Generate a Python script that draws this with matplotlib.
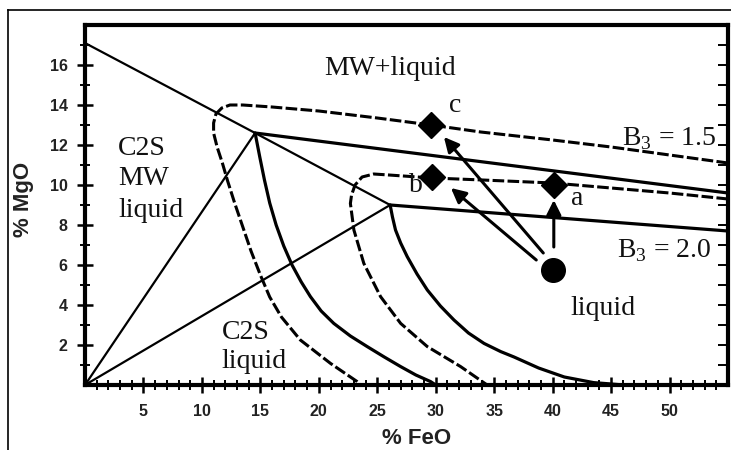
import numpy as np
import matplotlib
matplotlib.use("Agg")
import matplotlib.pyplot as plt
from matplotlib.lines import Line2D

plt.rcParams['mathtext.fontset'] = 'custom'
plt.rcParams['mathtext.rm'] = 'Liberation Serif'

# Tie lines (straight)
top_line_x = [0.0, 14.55, 26.1]
top_line_y = [17.1, 12.6, 9.0]
origin_t1_x = [0.0, 14.55]
origin_t1_y = [0.0, 12.6]
origin_t2_x = [0.0, 26.1]
origin_t2_y = [0.0, 9.0]
t1_right_x = [14.55, 55.0]
t1_right_y = [12.6, 9.6]
t2_right_x = [26.1, 55.0]
t2_right_y = [9.0, 7.7]

# Solid liquidus curves
liq1_x = [14.55, 14.95, 15.35, 15.8, 16.35, 17.0, 17.71, 18.5, 19.28, 20.2, 21.28, 22.7, 24.14, 25.6, 27.0, 28.3, 29.56, 30.0]
liq1_y = [12.6, 11.4, 10.25, 9.1, 8.0, 6.95, 6.0, 5.15, 4.42, 3.7, 3.08, 2.45, 1.92, 1.4, 0.92, 0.5, 0.17, 0.0]
liq2_x = [26.1, 26.3, 26.56, 27.0, 27.56, 28.4, 29.28, 30.4, 31.56, 32.8, 34.13, 35.56, 36.7, 38.8, 41.0, 43.5, 46.1]
liq2_y = [9.0, 8.4, 7.75, 7.1, 6.42, 5.55, 4.75, 3.95, 3.25, 2.6, 2.08, 1.67, 1.4, 0.85, 0.4, 0.12, 0.0]

# Dashed boundaries
b15_x = [55.0, 50.0, 45.0, 40.0, 33.85, 29.6, 25.0, 20.0, 16.0, 13.5, 12.4, 11.7, 11.2, 11.0, 11.0, 11.3, 11.75,
         12.2, 12.8, 13.5, 14.2, 15.0, 15.8, 16.8, 18.42, 21.0, 23.28, 23.6]
b15_y = [11.1, 11.5, 11.9, 12.25, 12.65, 13.0, 13.35, 13.7, 13.9, 14.0, 14.0, 13.85, 13.55, 13.1, 12.6, 11.9, 11.1,
         10.2, 9.1, 7.9, 6.7, 5.5, 4.4, 3.4, 2.25, 1.08, 0.17, 0.0]
b20_x = [55.0, 50.0, 45.0, 40.0, 34.0, 29.7, 26.0, 24.7, 23.7, 23.1, 22.8, 22.7, 23.0, 23.85, 25.28, 27.0, 29.28,
         32.13, 34.4]
b20_y = [9.3, 9.6, 9.85, 10.1, 10.25, 10.35, 10.5, 10.55, 10.4, 10.0, 9.5, 9.08, 7.75, 6.08, 4.42, 3.08, 1.92,
         0.92, 0.0]

# Points
diamond_x = [29.6, 29.7, 40.1]
diamond_y = [13.0, 10.4, 10.0]
start_x, start_y = 40.0, 5.75
arrow_tails = [(39.2, 6.6), (38.6, 6.25), (40.1, 6.9)]
arrow_tips = [(30.7, 12.4), (31.3, 9.85), (40.1, 9.25)]
point_labels = ['c', 'b', 'a']
point_label_xy = [(31.1, 13.65), (27.7, 9.65), (41.6, 9.0)]

x_ticks = [5, 10, 15, 20, 25, 30, 35, 40, 45, 50]
y_ticks = [2, 4, 6, 8, 10, 12, 14, 16]

fig = plt.figure(figsize=(7.31, 4.5), dpi=100)
ax = fig.add_axes([85 / 731, 1 - 385 / 450, (728 - 85) / 731, (385 - 25) / 450])

# outer frame (cropped on right/bottom)
fy = 1 - 10 / 450
fx = 8 / 731
fig.add_artist(Line2D([fx, fx], [0, fy], color='black', lw=1.2, transform=fig.transFigure))
fig.add_artist(Line2D([fx, 1], [fy, fy], color='black', lw=1.2, transform=fig.transFigure))

thin = dict(color='black', lw=1.6, solid_capstyle='round')
thick = dict(color='black', lw=2.3, solid_capstyle='round')
dash = dict(color='black', lw=2.2, linestyle=(0, (3.8, 1.1)))

ax.plot(top_line_x, top_line_y, **thin)
ax.plot(origin_t1_x, origin_t1_y, **thin)
ax.plot(origin_t2_x, origin_t2_y, **thin)
ax.plot(t1_right_x, t1_right_y, **thick)
ax.plot(t2_right_x, t2_right_y, **thick)
ax.plot(liq1_x, liq1_y, **thick)
ax.plot(liq2_x, liq2_y, **thick)
ax.plot(b15_x, b15_y, **dash)
ax.plot(b20_x, b20_y, **dash)

for tail, tip in zip(arrow_tails, arrow_tips):
    ax.annotate('', xy=tip, xytext=tail,
                arrowprops=dict(arrowstyle='-|>', color='black', lw=2.2, mutation_scale=22,
                                shrinkA=0, shrinkB=0))

ax.plot(diamond_x, diamond_y, 'D', color='black', markersize=13.5, zorder=5)
ax.plot([start_x], [start_y], 'o', color='black', markersize=17, zorder=5)

serif = dict(family='Liberation Serif', fontsize=20, color='#111111')
for lab, (lx, ly) in zip(point_labels, point_label_xy):
    ax.text(lx, ly, lab, ha='left', va='baseline', **serif)

ax.text(26.1, 15.5, 'MW+liquid', ha='center', va='baseline', **serif)
ax.text(2.83, 11.5, 'C2S', ha='left', va='baseline', **serif)
ax.text(2.83, 10.0, 'MW', ha='left', va='baseline', **serif)
ax.text(2.83, 8.4, 'liquid', ha='left', va='baseline', **serif)
ax.text(11.7, 2.28, 'C2S', ha='left', va='baseline', **serif)
ax.text(11.7, 0.83, 'liquid', ha='left', va='baseline', **serif)
ax.text(41.55, 3.5, 'liquid', ha='left', va='baseline', **serif)
ax.text(54.0, 12.0, r'B$_{\mathrm{3}}$ = 1.5', ha='right', va='baseline', **serif)
ax.text(53.6, 6.4, r'B$_{\mathrm{3}}$ = 2.0', ha='right', va='baseline', **serif)

ax.set_xlim(0, 55)
ax.set_ylim(0, 18)
ax.set_xticks(x_ticks)
ax.set_yticks(y_ticks)
ax.set_xticks(np.arange(1, 55), minor=True)
ax.set_yticks(np.arange(1, 18), minor=True)
ax.tick_params(axis='both', which='major', direction='inout', length=11, width=1.8,
               labelsize=11.5, labelcolor='#222222')
ax.tick_params(axis='x', which='major', pad=8)
ax.tick_params(axis='y', which='major', pad=7)
ax.tick_params(axis='both', which='minor', direction='inout', length=7, width=1.4)
for lab in ax.get_xticklabels() + ax.get_yticklabels():
    lab.set_fontweight('bold')
    lab.set_family('Liberation Sans')

for sp in ax.spines.values():
    sp.set_linewidth(3)

# right side ticks pointing inward
ax2 = ax.twinx()
ax2.set_ylim(0, 18)
ax2.set_yticks(np.arange(1, 18))
ax2.tick_params(axis='y', direction='in', length=7, width=1.4, labelright=False)
for sp in ax2.spines.values():
    sp.set_visible(False)

fig.text(417 / 731, 1 - 438 / 450, '% FeO', ha='center', va='center', fontsize=16,
         fontweight='bold', family='Liberation Sans', color='#222222')
fig.text(24 / 731, 1 - 199 / 450, '% MgO', ha='center', va='center', rotation=90, fontsize=16,
         fontweight='bold', family='Liberation Sans', color='#222222')

fig.savefig('out.png', dpi=100)
